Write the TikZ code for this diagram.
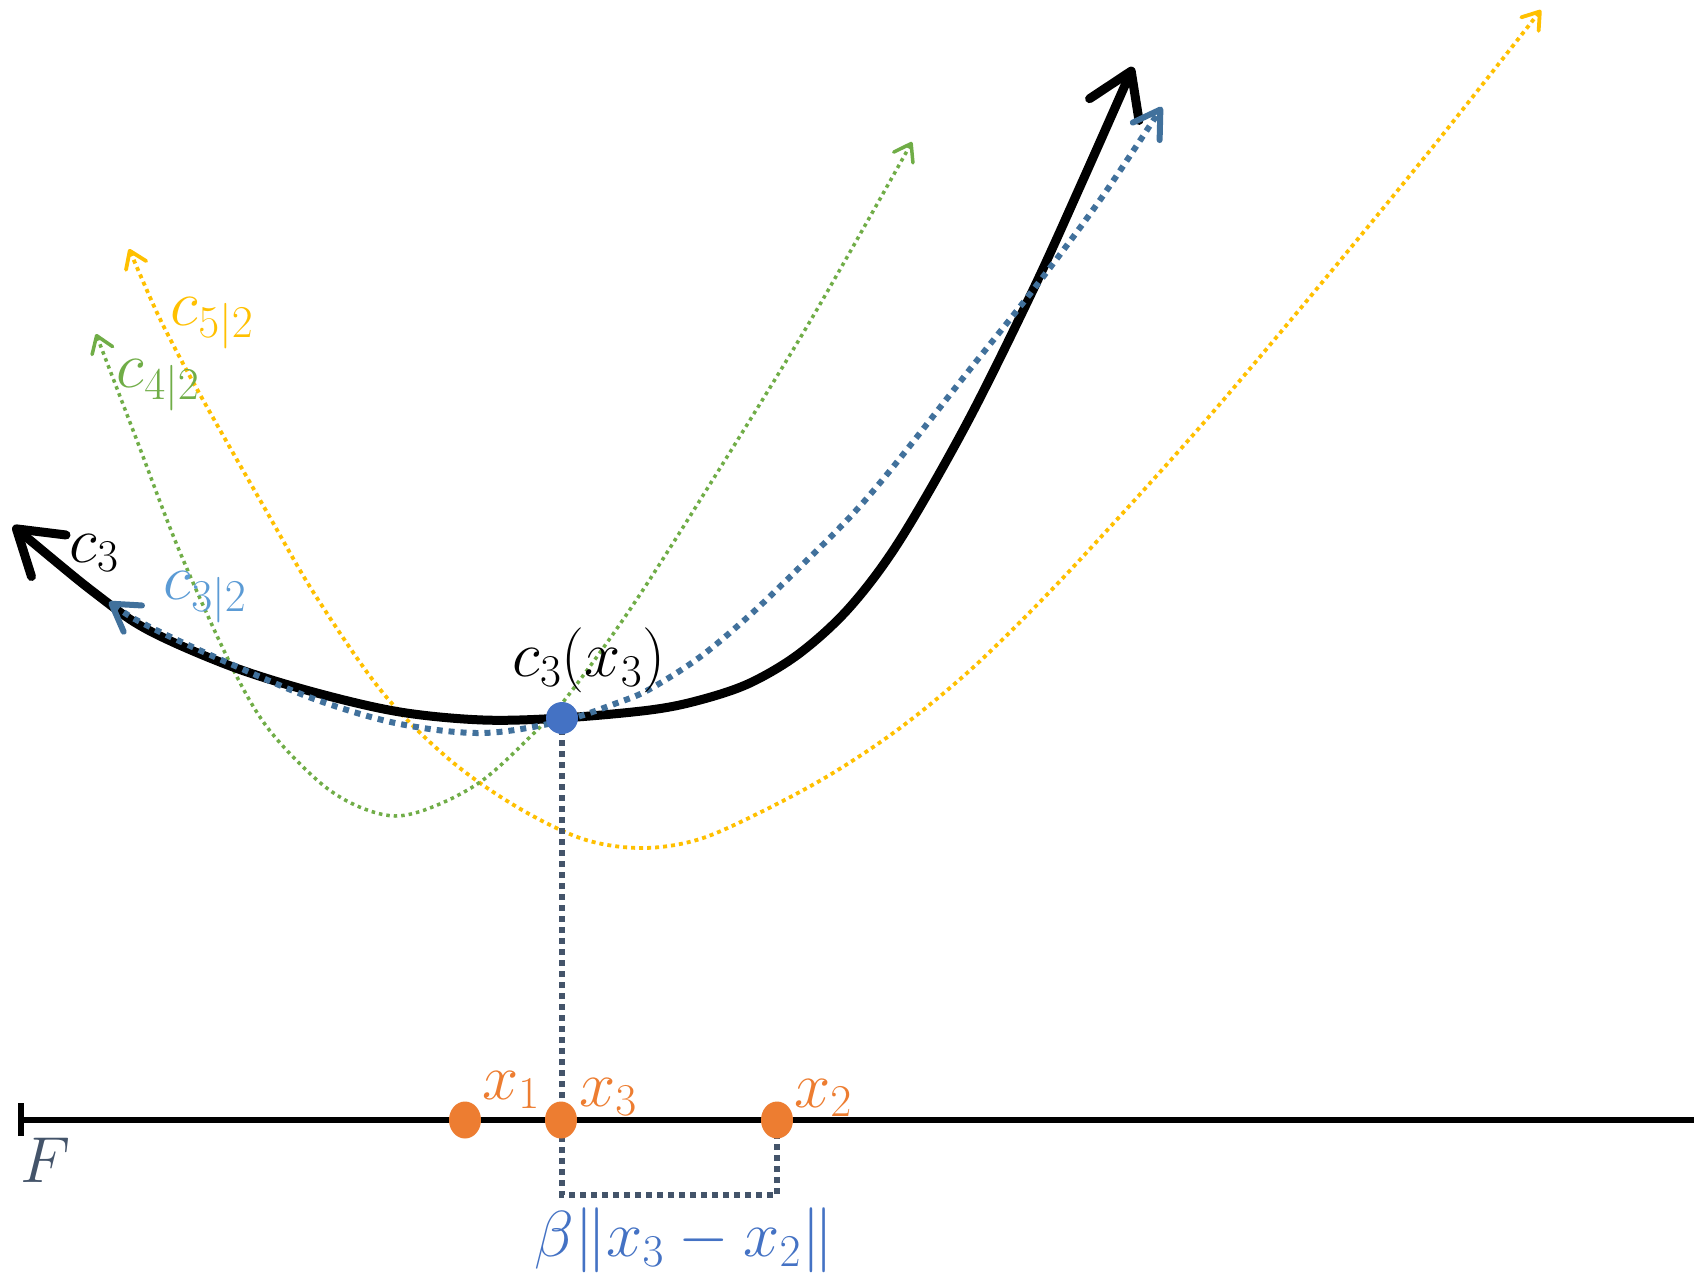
\RequirePackage{fix-cm}
\documentclass[tikz,border=0pt]{standalone}
\usetikzlibrary{arrows.meta,shapes.geometric}
\definecolor{cblue}{HTML}{41719C}
\definecolor{lblue}{HTML}{5B9BD5}
\definecolor{dblue}{HTML}{4472C4}
\definecolor{cgreen}{HTML}{70AD47}
\definecolor{cyellow}{HTML}{FFC000}
\definecolor{corange}{HTML}{ED7D31}
\definecolor{slate}{HTML}{44546A}
\begin{document}
\begin{tikzpicture}[x=1pt,y=-1pt,
  lbl/.style={font=\fontsize{65}{72}\selectfont, inner sep=0pt},
  bigtip/.style={{Straight Barb[round,length=42pt,width=54pt]}-{Straight Barb[round,length=42pt,width=54pt]}},
  midtip/.style={{Straight Barb[round,length=26pt,width=32pt]}-{Straight Barb[round,length=26pt,width=32pt]}},
  smalltip/.style={{Straight Barb[round,length=16pt,width=22pt]}-{Straight Barb[round,length=16pt,width=22pt]}},
  curveC/.style={line width=9pt, bigtip},
  curveB/.style={draw=cblue, line width=6pt, dash pattern=on 6pt off 6pt, midtip},
  curveG/.style={draw=cgreen, line width=3.5pt, dash pattern=on 3.5pt off 4pt, smalltip},
  curveY/.style={draw=cyellow, line width=3.8pt, dash pattern=on 4pt off 4pt, smalltip},
  guide/.style={draw=slate, line width=5.5pt, dash pattern=on 6pt off 5pt},
  bluedot/.style={circle, fill=dblue, minimum size=32pt, inner sep=0pt},
  orangedot/.style={ellipse, fill=corange, minimum width=32pt, minimum height=37pt, inner sep=0pt},
]
\useasboundingbox[fill=white] (0,0) rectangle (1694,1277);

% key points
\coordinate (p3) at (562,718);
\coordinate (q1) at (465,1120);
\coordinate (q3) at (561,1120);
\coordinate (q2) at (777,1120);
\coordinate (b1) at (562,1195);
\coordinate (b2) at (777,1195);
\coordinate (F0) at (21,1120);
\coordinate (Fend) at (1694,1120);

% yellow c_{5|2}
\draw[curveY] plot[smooth, tension=0.55] coordinates {
 (129,249) (179,356) (268,514) (317,598) (383,693) (450,760) (517,807)
 (583,839) (642,848) (700,839) (767,809) (833,773) (900,728) (967,673)
 (1033,609) (1100,538) (1200,427) (1305,303) (1428,153) (1541,10)};

% green c_{4|2}
\draw[curveG] plot[smooth, tension=0.55] coordinates {
 (96,334) (136,438) (179,550) (230,663) (267,727) (317,780) (355,805)
 (395,816) (435,806) (483,780) (533,734) (567,697) (633,605) (717,473)
 (812,318) (912,142)};

% black c_3
\draw[curveC] plot[smooth, tension=0.55] coordinates {
 (13,526) (100,597) (150,631) (233,667) (317,693) (400,712) (483,720)
 (562,718) (650,710) (700,700) (750,683) (800,653) (850,607) (900,540)
 (967,423) (1033,290) (1083,180) (1133,67)};

% blue c_{3|2}
\draw[curveB] plot[smooth, tension=0.55] coordinates {
 (109,602) (150,627) (233,665) (317,700) (400,724) (483,733)
 (562,721) (617,703) (650,689) (700,657) (750,615) (800,567) (850,517)
 (893,467) (967,373) (1033,290) (1100,200) (1162,107)};

% guide lines
\draw[guide] (p3) -- (b1) -- (b2) -- ([yshift=-17pt]q2);

% axis
\draw[line width=6pt] (F0) -- (Fend);
\draw[line width=6pt] ([yshift=-16pt]F0) -- ([yshift=17pt]F0);

% dots
\node[bluedot] (c3x3) at (p3) {};
\node[orangedot] (x1) at (q1) {};
\node[orangedot] (x3) at (q3) {};
\node[orangedot] (x2) at (q2) {};

% labels
\node[lbl] (lc3) at (94,553) {$c_3$};
\node[lbl, text=lblue] (lc32) at (205,597) {$c_{3|2}$};
\node[lbl, text=cyellow] (lc52) at (212,323) {$c_{5|2}$};
\node[lbl, text=cgreen] (lc42) at (158,385) {$c_{4|2}$};
\node[lbl] (lc3x3) at (589,660) {$c_3(x_3)$};
\node[lbl, text=corange] (lx1) at (511,1090) {$x_1$};
\node[lbl, text=corange] (lx3) at (608,1097) {$x_3$};
\node[lbl, text=corange] (lx2) at (823,1098) {$x_2$};
\node[lbl, text=slate] (lF) at (46,1160) {$F$};
\node[lbl, text=dblue] (lbeta) at (684,1240) {$\beta\|x_3-x_2\|$};
\end{tikzpicture}
\end{document}
